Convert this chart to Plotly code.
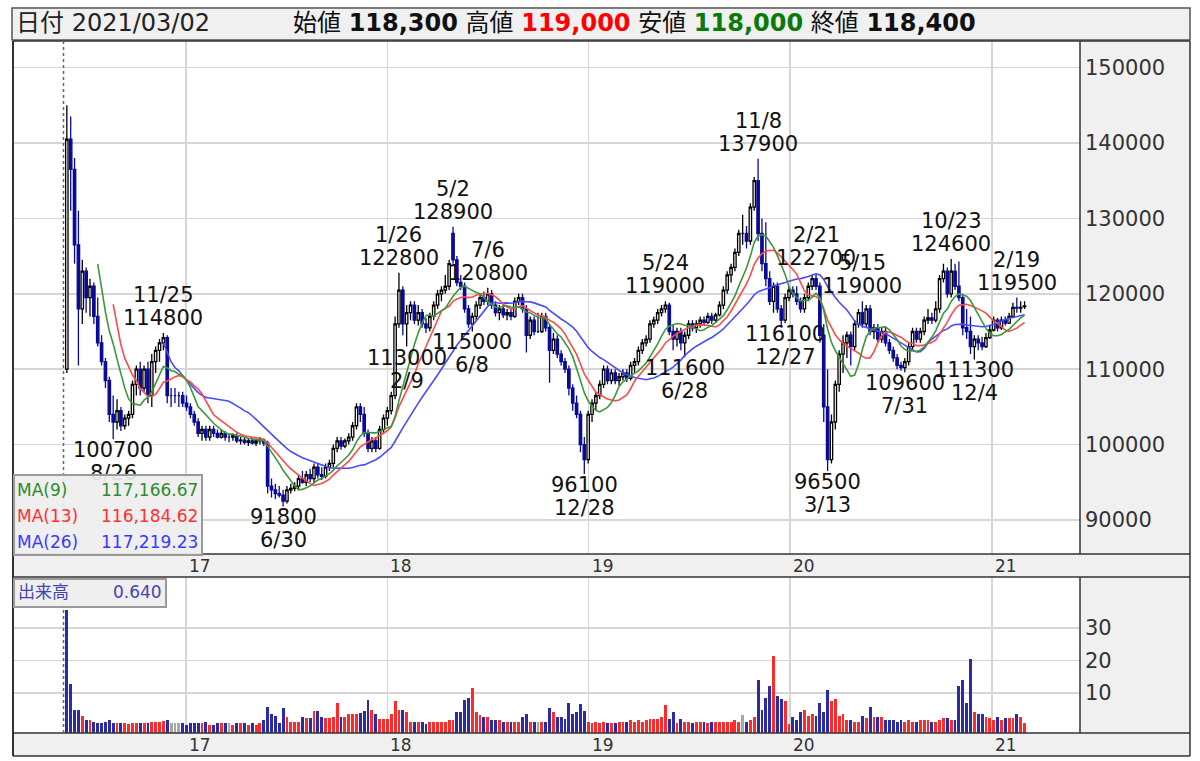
import plotly.graph_objects as go
import pandas as pd

W, H = 1200, 761
def px(x): return x / W
def py(y): return 1 - y / H

# ---------------- data (weekly, prices in thousand yen) ----------------
week_start = "2016-05-30"
n_weeks = 249

opens = [
    110.0, 140.5, 136.5, 126.5, 118.0, 123.0, 119.5, 121.0, 117.0, 113.5, 111.0, 108.5, 104.0,
    103.0, 104.5, 102.5, 103.5, 104.0, 108.0, 110.0, 107.5, 110.0, 106.5, 111.0, 112.5, 113.5,
    114.2, 106.5, 106.5, 106.5, 106.5, 105.5, 105.0, 104.0, 103.0, 101.5, 102.0, 101.0, 102.0,
    101.5, 101.0, 101.5, 101.0, 101.0, 101.2, 100.5, 100.6, 100.3, 100.5, 100.2, 100.5, 100.6,
    100.2, 94.5, 94.0, 93.5, 93.3, 92.5, 94.0, 94.2, 94.5, 95.5, 95.0, 96.0, 95.5,
    97.0, 96.0, 95.8, 97.0, 97.5, 99.5, 100.5, 99.8, 100.5, 101.0, 102.5, 105.0, 104.0,
    101.5, 99.5, 100.5, 99.5, 102.0, 103.5, 104.5, 106.5, 116.0, 120.5, 116.0, 117.5, 118.5,
    116.5, 117.5, 116.0, 115.5, 117.0, 118.5, 120.0, 120.5, 121.0, 128.0, 124.5, 121.5, 121.0,
    118.0, 116.0, 117.0, 118.5, 119.5, 119.0, 120.0, 118.5, 117.5, 118.0, 117.2, 117.5, 117.0,
    119.0, 119.5, 118.0, 114.5, 116.5, 115.0, 115.0, 117.0, 115.5, 112.5, 114.0, 112.0, 111.0,
    110.0, 107.5, 105.5, 104.0, 100.0, 98.0, 104.0, 105.5, 106.5, 108.0, 110.0, 108.5, 109.5,
    108.5, 109.0, 109.5, 108.8, 110.5, 111.0, 112.5, 113.5, 114.0, 116.0, 116.5, 117.5, 118.0,
    118.5, 115.0, 114.0, 115.0, 113.5, 114.5, 116.0, 115.5, 116.0, 116.5, 116.2, 117.0, 116.5,
    117.2, 118.5, 120.5, 122.5, 123.5, 125.5, 128.0, 128.0, 127.0, 131.5, 135.0, 128.0, 124.0,
    122.0, 119.0, 121.0, 118.0, 116.5, 119.5, 120.5, 120.0, 119.0, 118.0, 119.5, 121.0, 122.0,
    121.0, 114.5, 105.0, 98.0, 103.0, 108.0, 112.0, 113.5, 114.5, 113.0, 116.0, 117.5, 116.0,
    118.0, 115.0, 115.5, 114.0, 115.0, 113.5, 112.5, 111.5, 110.5, 110.2, 111.0, 113.0, 115.0,
    114.0, 115.0, 116.5, 116.8, 116.5, 118.0, 122.0, 123.0, 120.0, 123.0, 121.0, 119.5, 115.5,
    115.0, 113.0, 114.0, 113.5, 113.0, 114.2, 115.2, 116.5, 115.5, 116.5, 116.1, 117.0, 118.2,
    118.1, 118.3,
]
highs = [
    145.0, 143.5, 138.0, 131.0, 124.5, 123.5, 122.0, 121.5, 119.5, 114.5, 111.5, 109.0, 106.5,
    106.0, 105.0, 104.0, 104.5, 108.5, 110.5, 111.0, 110.5, 111.0, 112.0, 113.0, 114.0, 114.8,
    114.5, 107.5, 107.5, 107.0, 107.0, 106.5, 105.5, 104.5, 103.5, 102.5, 102.5, 102.5, 102.5,
    102.0, 102.0, 101.8, 101.5, 101.5, 101.5, 101.0, 101.0, 100.8, 101.0, 100.8, 101.0, 100.8,
    100.5, 95.5, 94.8, 94.5, 94.0, 94.5, 94.8, 95.0, 96.0, 96.5, 96.5, 96.8, 97.5,
    97.5, 97.0, 97.5, 98.0, 100.0, 101.0, 101.0, 100.8, 101.5, 103.0, 105.5, 105.5, 105.0,
    102.0, 101.0, 101.0, 102.5, 104.0, 105.0, 107.0, 117.0, 122.8, 121.0, 118.5, 119.0, 119.0,
    118.5, 118.0, 116.8, 117.5, 119.0, 120.5, 121.0, 122.5, 124.5, 128.9, 125.0, 122.5, 121.5,
    118.5, 117.5, 119.0, 120.0, 120.3, 120.8, 120.5, 119.0, 118.5, 118.5, 118.0, 118.0, 119.5,
    120.0, 120.0, 118.5, 117.0, 117.0, 117.5, 117.5, 117.5, 116.0, 114.8, 114.5, 112.5, 111.5,
    110.5, 108.0, 106.5, 104.5, 101.0, 104.5, 106.0, 107.0, 108.5, 110.5, 110.5, 110.0, 110.0,
    109.5, 110.0, 110.0, 111.0, 111.5, 113.0, 114.0, 114.5, 116.5, 117.0, 118.0, 118.5, 119.0,
    118.8, 116.0, 115.5, 115.5, 115.0, 116.5, 116.5, 116.5, 117.0, 117.0, 117.5, 117.5, 117.5,
    119.0, 121.0, 123.0, 124.0, 126.0, 128.5, 130.5, 129.0, 132.0, 135.5, 137.9, 130.0, 129.5,
    123.0, 121.5, 121.5, 118.5, 120.0, 121.0, 121.0, 121.0, 119.5, 120.0, 121.5, 122.5, 122.7,
    121.5, 116.0, 110.0, 104.0, 108.5, 112.5, 114.5, 115.0, 115.0, 116.5, 118.0, 119.0, 118.5,
    118.5, 116.0, 116.0, 115.5, 115.5, 114.0, 113.0, 112.0, 111.0, 111.5, 113.5, 115.5, 115.5,
    115.5, 117.0, 118.0, 117.5, 119.0, 122.5, 124.0, 123.5, 124.6, 124.0, 124.3, 120.0, 118.0,
    117.0, 114.5, 114.5, 114.3, 114.8, 115.8, 117.0, 116.8, 117.0, 117.0, 117.5, 118.8, 119.5,
    119.0, 119.0,
]
lows = [
    109.5, 131.0, 124.0, 110.5, 116.0, 117.5, 117.0, 116.0, 113.0, 110.5, 107.5, 103.0, 100.7,
    102.0, 101.8, 102.0, 102.5, 103.5, 106.5, 106.5, 107.0, 105.5, 105.0, 109.5, 111.0, 112.5,
    105.5, 105.0, 105.5, 105.0, 105.0, 104.5, 103.5, 102.5, 101.0, 100.5, 100.5, 100.5, 101.0,
    100.8, 100.8, 100.5, 100.3, 100.5, 100.2, 100.0, 100.0, 99.8, 100.0, 99.8, 100.0, 99.8,
    93.5, 93.0, 92.8, 93.0, 91.8, 92.2, 93.5, 93.8, 94.0, 94.8, 94.5, 95.0, 95.0,
    95.5, 95.3, 95.5, 96.5, 97.0, 99.0, 99.3, 99.5, 100.0, 100.5, 102.0, 103.0, 101.0,
    99.0, 99.0, 99.0, 99.3, 101.5, 102.5, 104.0, 106.0, 115.5, 114.5, 113.0, 116.5, 116.0,
    115.8, 115.5, 114.8, 115.0, 116.5, 118.0, 119.0, 120.0, 120.5, 124.0, 121.0, 120.5, 117.5,
    115.5, 115.0, 116.5, 118.0, 118.5, 118.5, 118.0, 117.0, 116.5, 116.8, 116.5, 116.5, 116.8,
    118.5, 117.5, 112.2, 114.0, 114.5, 114.8, 114.8, 115.0, 108.2, 112.0, 111.5, 110.5, 109.5,
    106.5, 104.5, 103.5, 99.0, 96.1, 97.5, 103.0, 104.5, 106.0, 107.5, 108.0, 108.0, 108.0,
    107.8, 108.5, 108.3, 108.5, 109.5, 110.5, 112.0, 113.0, 113.5, 115.5, 116.0, 117.0, 117.5,
    114.5, 112.5, 113.0, 112.5, 111.6, 114.0, 115.0, 114.8, 115.5, 115.8, 116.0, 116.0, 116.2,
    117.0, 118.0, 120.0, 121.5, 123.0, 125.0, 126.5, 126.0, 126.5, 131.0, 127.0, 123.0, 121.0,
    118.5, 117.5, 117.5, 115.5, 116.1, 119.0, 119.5, 118.5, 117.5, 117.5, 119.0, 120.5, 120.5,
    113.5, 103.0, 96.5, 97.5, 102.0, 107.0, 109.5, 111.5, 110.5, 112.5, 115.5, 115.5, 115.5,
    114.5, 114.0, 113.5, 113.5, 113.0, 112.0, 111.0, 110.0, 109.8, 109.6, 110.5, 112.5, 113.5,
    113.5, 114.5, 116.0, 116.0, 116.2, 117.5, 121.5, 119.5, 119.5, 120.5, 119.0, 114.5, 114.0,
    112.0, 111.3, 112.5, 112.5, 112.8, 114.0, 115.0, 115.0, 115.2, 115.8, 116.0, 116.8, 117.5,
    117.5, 118.0,
]
closes = [
    140.5, 136.5, 126.5, 118.0, 123.0, 119.5, 121.0, 117.0, 113.5, 111.0, 108.5, 104.0, 103.0,
    104.5, 102.5, 103.5, 104.0, 108.0, 110.0, 107.5, 110.0, 106.5, 111.0, 112.5, 113.5, 114.2,
    106.5, 106.5, 106.5, 106.5, 105.5, 105.0, 104.0, 103.0, 101.5, 102.0, 101.0, 102.0, 101.5,
    101.0, 101.5, 101.0, 101.0, 101.2, 100.5, 100.6, 100.3, 100.5, 100.2, 100.5, 100.6, 100.2,
    94.5, 94.0, 93.5, 93.3, 92.5, 94.0, 94.2, 94.5, 95.5, 95.0, 96.0, 95.5, 97.0,
    96.0, 95.8, 97.0, 97.5, 99.5, 100.5, 99.8, 100.5, 101.0, 102.5, 105.0, 104.0, 101.5,
    99.5, 100.5, 99.5, 102.0, 103.5, 104.5, 106.5, 116.0, 120.5, 116.0, 117.5, 118.5, 116.5,
    117.5, 116.0, 115.5, 117.0, 118.5, 120.0, 120.5, 121.0, 124.0, 124.5, 121.5, 121.0, 118.0,
    116.0, 117.0, 118.5, 119.5, 119.0, 120.0, 118.5, 117.5, 118.0, 117.2, 117.5, 117.0, 119.0,
    119.5, 118.0, 114.5, 116.5, 115.0, 115.0, 117.0, 115.5, 112.5, 114.0, 112.0, 111.0, 110.0,
    107.5, 105.5, 104.0, 100.0, 98.0, 104.0, 105.5, 106.5, 108.0, 110.0, 108.5, 109.5, 108.5,
    109.0, 109.5, 108.8, 110.5, 111.0, 112.5, 113.5, 114.0, 116.0, 116.5, 117.5, 118.0, 118.5,
    115.0, 114.0, 115.0, 113.5, 114.5, 116.0, 115.5, 116.0, 116.5, 116.2, 117.0, 116.5, 117.2,
    118.5, 120.5, 122.5, 123.5, 125.5, 128.0, 128.0, 127.0, 131.5, 135.0, 128.0, 124.0, 122.0,
    119.0, 121.0, 118.0, 116.5, 119.5, 120.5, 120.0, 119.0, 118.0, 119.5, 121.0, 122.0, 121.0,
    114.5, 105.0, 98.0, 103.0, 108.0, 112.0, 113.5, 114.5, 113.0, 116.0, 117.5, 116.0, 118.0,
    115.0, 115.5, 114.0, 115.0, 113.5, 112.5, 111.5, 110.5, 110.2, 111.0, 113.0, 115.0, 114.0,
    115.0, 116.5, 116.8, 116.5, 118.0, 122.0, 123.0, 120.0, 123.0, 121.0, 119.5, 115.5, 115.0,
    113.0, 114.0, 113.5, 113.0, 114.2, 115.2, 116.5, 115.5, 116.5, 116.1, 117.0, 118.2, 118.1,
    118.2, 118.4,
]
volumes = [
    35.7, 12.7, 4.8, 4.8, 2.9, 1.7, 1.6, 1.2, 0.8, 0.7, 1.2, 1.7, 0.7,
    0.7, 0.7, 0.7, 0.6, 0.7, 0.7, 0.7, 0.7, 0.8, 1.2, 1.2, 1.2, 1.3,
    1.7, 0.7, 0.7, 0.7, 0.7, 0.3, 0.7, 0.7, 0.7, 0.7, 1.2, 0.3, 0.3,
    0.7, 0.7, 0.7, 0.7, 0.2, 0.7, 0.7, 0.7, 0.3, 0.7, 0.3, 0.7, 1.7,
    5.8, 3.5, 2.9, 0.7, 5.3, 2.7, 1.2, 1.2, 1.2, 2.5, 2.2, 2.2, 4.6,
    4.6, 2.5, 2.2, 2.2, 2.7, 6.8, 2.7, 2.7, 3.5, 3.5, 3.5, 4.0, 4.6,
    8.0, 4.8, 3.5, 1.9, 1.9, 1.9, 3.7, 7.6, 4.8, 4.8, 4.3, 1.2, 1.2,
    1.2, 1.2, 0.5, 1.2, 1.2, 1.2, 1.2, 1.2, 1.7, 1.7, 4.1, 4.1, 8.0,
    8.6, 11.4, 4.1, 3.1, 2.6, 2.6, 1.7, 1.7, 1.7, 1.2, 1.2, 1.2, 1.2,
    1.2, 2.6, 3.6, 1.2, 1.2, 1.2, 1.2, 1.2, 5.3, 4.1, 2.6, 2.6, 1.9,
    6.8, 3.6, 4.1, 6.5, 4.6, 1.2, 0.7, 1.2, 0.7, 1.2, 0.7, 0.7, 0.7,
    1.2, 1.2, 1.2, 1.7, 1.2, 1.7, 1.2, 1.7, 1.9, 1.9, 1.9, 2.6, 6.3,
    1.9, 4.1, 0.7, 1.9, 1.2, 1.2, 0.7, 1.2, 1.2, 1.2, 0.7, 1.2, 1.2,
    1.2, 1.2, 1.2, 1.2, 1.7, 1.2, 3.3, 1.2, 1.7, 2.6, 14.0, 4.8, 8.6,
    12.2, 21.4, 9.2, 8.1, 7.5, 0.5, 2.5, 1.7, 4.1, 4.8, 3.0, 3.7, 3.0,
    7.0, 4.1, 10.9, 7.5, 8.1, 3.0, 3.5, 1.7, 1.7, 1.2, 1.2, 3.0, 2.2,
    5.8, 2.5, 2.5, 2.5, 1.7, 1.7, 1.7, 1.2, 1.7, 1.2, 1.7, 1.2, 1.2,
    1.7, 1.7, 1.7, 1.2, 1.2, 1.7, 2.2, 2.2, 1.7, 1.7, 12.2, 14.0, 7.0,
    20.6, 4.1, 3.5, 3.5, 2.5, 2.2, 1.7, 2.5, 1.7, 2.2, 2.2, 2.2, 3.5,
    2.5, 0.64,
]

# high / low annotations
mark_weeks = [25, 86, 100, 109, 155, 179, 194, 206, 229, 246,
              12, 56, 88, 105, 134, 160, 186, 197, 217, 235]
mark_kinds = ["H"] * 10 + ["L"] * 10
mark_dates = ["11/25", "1/26", "5/2", "7/6", "5/24", "11/8", "2/21", "5/15", "10/23", "2/19",
              "8/26", "6/30", "2/9", "6/8", "12/28", "6/28", "12/27", "3/13", "7/31", "12/4"]
mark_values = [114800, 122800, 128900, 120800, 119000, 137900, 122700, 119000, 124600, 119500,
               100700, 91800, 113000, 115000, 96100, 111600, 116100, 96500, 109600, 111300]

price_ticks = [90000, 100000, 110000, 120000, 130000, 140000, 150000]
vol_ticks = [10, 20, 30]
year_labels = ["17", "18", "19", "20", "21"]
year_starts = ["2017-01-01", "2018-01-01", "2019-01-01", "2020-01-01", "2021-01-01"]

header_date = "2021/03/02"
header_open, header_high, header_low, header_close = "118,300", "119,000", "118,000", "118,400"
vol_last_text = "0.640"

# ---------------- derived ----------------
weeks = pd.date_range(week_start, periods=n_weeks, freq="7D")
O = [round(v * 1000) for v in opens]
Hh = [round(v * 1000) for v in highs]
L = [round(v * 1000) for v in lows]
C = [round(v * 1000) for v in closes]
cs = pd.Series(C, dtype=float)
ma9 = cs.rolling(9).mean()
ma13 = cs.rolling(13).mean()
ma26 = cs.rolling(26).mean()

FONT = "DejaVu Sans, Noto Sans CJK JP, sans-serif"
GREEN, RED, BLUE = "#3c983c", "#ff4a4a", "#4a4aff"
DOWN = "#0a0a98"
GRID = "#d6d6d6"
PANEL = "#f0f0f0"
EDGE = "#333333"

VBASE = -2.3
# volume colour: close vs previous week's close (first week has no previous -> down colour)
vol_colors = []
for i, c_ in enumerate(C):
    prev = C[i - 1] if i > 0 else None
    if prev is None or c_ < prev:
        vol_colors.append("#2b2ba6")
    elif c_ > prev:
        vol_colors.append("#ff2a2a")
    else:
        vol_colors.append("#a8a8a8")

fig = go.Figure()
fig.add_trace(go.Candlestick(
    x=weeks, open=O, high=Hh, low=L, close=C,
    increasing=dict(line=dict(color="#000000", width=1.3), fillcolor="#ffffff"),
    decreasing=dict(line=dict(color=DOWN, width=1.3), fillcolor=DOWN),
    whiskerwidth=0, showlegend=False, xaxis="x", yaxis="y", hoverinfo="skip"))
for s, col in ((ma26, BLUE), (ma13, RED), (ma9, GREEN)):
    fig.add_trace(go.Scatter(x=weeks, y=s, mode="lines", line=dict(color=col, width=1.6),
                             showlegend=False, xaxis="x", yaxis="y", hoverinfo="skip"))
fig.add_trace(go.Bar(x=weeks, y=[v - VBASE for v in volumes], base=VBASE,
                     width=5.2 * 86400000, marker=dict(color=vol_colors, line=dict(width=0)),
                     showlegend=False, xaxis="x2", yaxis="y2", hoverinfo="skip"))

xrange_ = ["2016-02-22 10:00", "2021-06-09 12:00"]
common_x = dict(type="date", range=xrange_, domain=[px(13), px(1080)], showgrid=True,
                gridcolor=GRID, gridwidth=1.5, tickvals=year_starts, showticklabels=False,
                ticks="", zeroline=False, showline=False, rangeslider=dict(visible=False))

shapes = []
def rect(x0, y0, x1, y1, fill=None, line=None, lw=1.5, layer="below"):
    shapes.append(dict(type="rect", xref="paper", yref="paper", x0=px(x0), x1=px(x1),
                       y0=py(y1), y1=py(y0), fillcolor=fill or "rgba(0,0,0,0)",
                       line=dict(color=line or "rgba(0,0,0,0)", width=lw if line else 0),
                       layer=layer))
def hline(y, x0, x1, color=EDGE, w=1.5):
    shapes.append(dict(type="line", xref="paper", yref="paper", x0=px(x0), x1=px(x1),
                       y0=py(y), y1=py(y), line=dict(color=color, width=w), layer="above"))
def vline(x, y0, y1, color=EDGE, w=1.5):
    shapes.append(dict(type="line", xref="paper", yref="paper", x0=px(x), x1=px(x),
                       y0=py(y0), y1=py(y1), line=dict(color=color, width=w), layer="above"))

rect(12, 8, 1190, 40, fill=PANEL, line="#555555", lw=1.5)
rect(1080, 41, 1190, 554, fill=PANEL)
rect(13, 554, 1190, 577, fill=PANEL)
rect(1080, 577, 1190, 733, fill=PANEL)
rect(13, 733, 1190, 756, fill=PANEL)
for y in (41, 554, 577, 733, 756):
    hline(y, 13, 1190)
vline(13, 41, 756, w=2)
vline(1190, 41, 756)
vline(1080, 41, 554)
vline(1080, 577, 733)
for (y0, y1) in ((41, 554), (577, 733)):
    shapes.append(dict(type="line", xref="x", yref="paper", x0="2016-05-24", x1="2016-05-24",
                       y0=py(y1), y1=py(y0), line=dict(color="#666666", width=1.5, dash="dot"),
                       layer="above"))

ann = []
ann.append(dict(xref="paper", yref="paper", x=px(14), y=py(23), xanchor="left", yanchor="middle",
                text=f"日付 {header_date}", showarrow=False, font=dict(family=FONT, size=24, color="#222")))
ann.append(dict(xref="paper", yref="paper", x=px(291), y=py(23), xanchor="left", yanchor="middle",
                text=(f"始値 <b>{header_open}</b> 高値 <b><span style='color:#ff0000'>{header_high}</span></b>"
                      f" 安値 <b><span style='color:#0a7a0a'>{header_low}</span></b> 終値 <b>{header_close}</b>"),
                showarrow=False, font=dict(family=FONT, size=24, color="#111")))
for lab, ys in zip(year_labels, year_starts):
    xd = (pd.Timestamp(ys) + pd.Timedelta(days=25)).strftime("%Y-%m-%d")
    for yy in (566, 745):
        ann.append(dict(xref="x", yref="paper", x=xd, y=py(yy), xanchor="center", yanchor="middle",
                        text=lab, showarrow=False, font=dict(family=FONT, size=17, color="#333")))
for wi, kind, dt, val in zip(mark_weeks, mark_kinds, mark_dates, mark_values):
    if kind == "H":
        lines = [(dt, 38), (str(val), 15)]
    else:
        lines = [(str(val), -11), (dt, -34)]
    for txt, sh in lines:
        ann.append(dict(xref="x", yref="y", x=weeks[wi], y=val, yshift=sh, xanchor="center",
                        yanchor="middle", text=txt, showarrow=False,
                        font=dict(family=FONT, size=21, color="#111")))
ann.append(dict(xref="paper", yref="paper", x=px(13), y=py(474), xanchor="left", yanchor="top",
                text=" ", showarrow=False, width=186, height=78, borderpad=0, borderwidth=2,
                bordercolor="#9a9a9a", bgcolor="rgba(238,238,238,0.93)", font=dict(size=8)))
for (name, s, col, yy) in (("MA(9)", ma9, "#2e8b2e", 490), ("MA(13)", ma13, "#ff3030", 516),
                           ("MA(26)", ma26, "#3a3aff", 542)):
    ann.append(dict(xref="paper", yref="paper", x=px(15), y=py(yy), xanchor="left", yanchor="middle",
                    text=name, showarrow=False, font=dict(family=FONT, size=17, color=col)))
    ann.append(dict(xref="paper", yref="paper", x=px(200), y=py(yy), xanchor="right", yanchor="middle",
                    text=f"{s.iloc[-1]:,.2f}", showarrow=False, font=dict(family=FONT, size=17, color=col)))
ann.append(dict(xref="paper", yref="paper", x=px(13), y=py(578), xanchor="left", yanchor="top",
                text=" ", showarrow=False, width=150, height=26, borderpad=0, borderwidth=2,
                bordercolor="#9a9a9a", bgcolor="rgba(238,238,238,0.95)", font=dict(size=8)))
ann.append(dict(xref="paper", yref="paper", x=px(16), y=py(592), xanchor="left", yanchor="middle",
                text="出来高", showarrow=False, font=dict(family=FONT, size=17, color="#4343b4")))
ann.append(dict(xref="paper", yref="paper", x=px(164), y=py(592), xanchor="right", yanchor="middle",
                text=vol_last_text, showarrow=False, font=dict(family=FONT, size=17, color="#4343b4")))

fig.update_layout(
    width=W, height=H, autosize=False, margin=dict(l=0, r=0, t=0, b=0, pad=0),
    paper_bgcolor="#ffffff", plot_bgcolor="#ffffff", showlegend=False, boxgap=0.12,
    bargap=0, hovermode=False,
    xaxis=dict(**common_x, anchor="y"),
    xaxis2=dict(**common_x, anchor="y2", matches="x"),
    yaxis=dict(domain=[py(554), py(41)], range=[85490, 153528], side="right", anchor="x",
               tickvals=price_ticks, ticktext=[str(t) for t in price_ticks], showgrid=True,
               gridcolor=GRID, gridwidth=1.5, zeroline=False, ticks="", ticklabelstandoff=4,
               tickfont=dict(family=FONT, size=21, color="#333")),
    yaxis2=dict(domain=[py(733), py(577)], range=[VBASE, 45.7], side="right", anchor="x2",
                tickvals=vol_ticks, ticktext=[str(t) for t in vol_ticks], showgrid=True,
                gridcolor=GRID, gridwidth=1.5, zeroline=False, ticks="", ticklabelstandoff=4,
                tickfont=dict(family=FONT, size=21, color="#333")),
    shapes=shapes, annotations=ann,
)
fig.write_html("out.html", config={"displayModeBar": False, "staticPlot": True},
               post_script="document.documentElement.style.margin='0';document.body.style.margin='0';"
                           "document.body.style.overflow='hidden';")
